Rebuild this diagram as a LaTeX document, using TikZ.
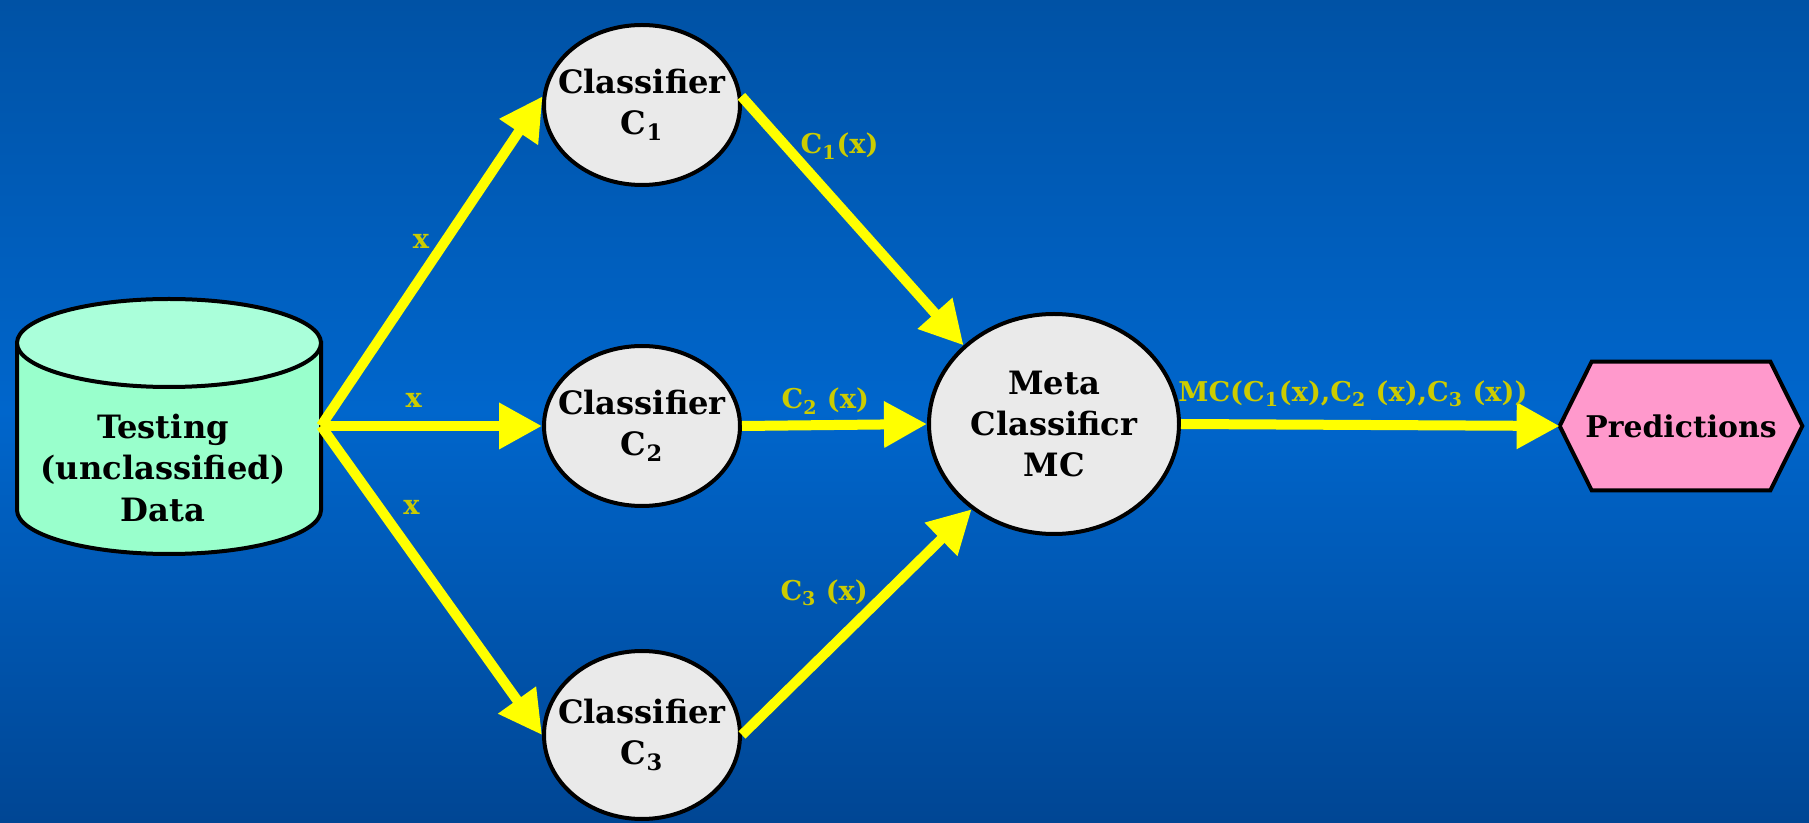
\documentclass[tikz,border=0pt]{standalone}
\usepackage{fontspec}
\setmainfont{DejaVu Serif}
\usetikzlibrary{arrows.meta,shapes.geometric}
\newlength\px
\setlength\px{0.2mm}
\definecolor{bgtop}{RGB}{0,82,165}
\definecolor{bgmid}{RGB}{0,102,204}
\definecolor{bgbot}{RGB}{0,70,148}
\definecolor{dbside}{RGB}{153,255,204}
\definecolor{dbtop}{RGB}{170,255,218}
\definecolor{circfill}{RGB}{234,234,234}
\definecolor{hexfill}{RGB}{255,153,204}
\definecolor{flow}{RGB}{255,255,0}
\definecolor{flowtext}{RGB}{204,204,0}
\tikzset{
  boxtext/.style={align=center, inner sep=0pt, font=\fontsize{18.3}{23.5}\selectfont\bfseries},
  classif/.style={ellipse, draw=black, line width=4\px, fill=circfill, inner sep=0pt,
    minimum width=196\px, minimum height=160\px},
  dbline/.style={draw=black, line width=4\px},
  hexline/.style={draw=black, line width=4\px, fill=hexfill},
  flowarrow/.style={draw=flow, line width=2mm, -{Triangle[length=8.6mm, width=8.8mm]}},
  lab/.style={text=flowtext, font=\fontsize{15.5}{18}\selectfont\bfseries}
}
\begin{document}
\begin{tikzpicture}[x=0.2mm, y=0.2mm]
\useasboundingbox (0,0) rectangle (1809,822);
\fill[top color=bgtop, bottom color=bgmid] (0,411) rectangle (1809,822);
\fill[top color=bgmid, bottom color=bgbot] (0,0) rectangle (1809,411.5);

\draw[dbline, fill=dbside] (17,479) -- (17,312) arc[start angle=180, end angle=360, x radius=152, y radius=44] -- (321,479) -- cycle;
\draw[dbline, fill=dbtop] (169,479) ellipse[x radius=152, y radius=44];
\node[boxtext] (data) at (163,354) {Testing\\(unclassified)\\Data};
\coordinate (db) at (321,396);

\node[classif] (c1) at (642,717) {};
\node[boxtext] (c1text) at (c1) {Classifier\\C\textsubscript{1}};
\node[classif] (c2) at (642,396) {};
\node[boxtext] (c2text) at (c2) {Classifier\\C\textsubscript{2}};
\node[classif, minimum height=168\px] (c3) at (642,87) {};
\node[boxtext] (c3text) at (c3) {Classifier\\C\textsubscript{3}};
\node[classif, minimum width=250\px, minimum height=220\px] (mc) at (1054,398) {};
\node[boxtext] (mctext) at (mc) {Meta\\Classificr\\MC};

\path (1681,396) node[minimum width=242\px, minimum height=128\px, inner sep=0pt] (pred) {};
\draw[hexline] (pred.west) -- ([xshift=6.4mm]pred.north west) -- ([xshift=-6.4mm]pred.north east)
  -- (pred.east) -- ([xshift=-6.4mm]pred.south east) -- ([xshift=6.4mm]pred.south west) -- cycle;
\node[boxtext, font=\fontsize{17}{20}\selectfont\bfseries] (predtext) at (pred) {Predictions};

\draw[flowarrow] (db) -- node[lab, pos=0.56, left=1mm] (x1) {x} (c1.175);
\draw[flowarrow] (db) -- node[lab, pos=0.42, above=1.6mm] (x2) {x} (c2.west);
\draw[flowarrow] (db) -- node[lab, pos=0.265, right=2.6mm] (x3) {x} (c3.west);

\draw[flowarrow] (c1.5) -- node[lab, pos=0.2, right=0.8mm] (l1) {C\textsubscript{1}(x)} (mc.139);
\draw[flowarrow] (c2.east) -- node[lab, pos=0.45, above] (l2) {C\textsubscript{2} (x)} (mc.west);
\draw[flowarrow] (c3.east) -- node[lab, pos=0.63, left=1.6mm] (l3) {C\textsubscript{3} (x)} (mc.226);
\draw[flowarrow] (mc.east) -- node[lab, pos=0.454, above=1.4mm] (lmc) {MC(C\textsubscript{1}(x),C\textsubscript{2} (x),C\textsubscript{3} (x))} (pred.west);
\end{tikzpicture}
\end{document}
